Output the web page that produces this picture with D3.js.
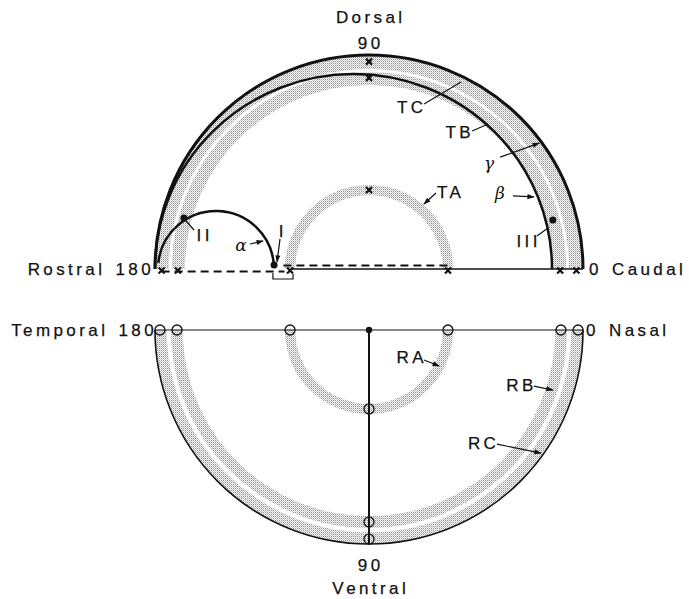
<!DOCTYPE html>
<html><head><meta charset="utf-8">
<script src="https://cdn.jsdelivr.net/npm/d3@7"></script>
<style>
body{margin:0;background:#fff}
text{font-family:"Liberation Sans",Arial,sans-serif;font-size:17px;letter-spacing:3.4px;word-spacing:2px;fill:#111;stroke:#111;stroke-width:0.25px}
.greek{font-family:"DejaVu Serif",serif;font-style:italic;letter-spacing:0;stroke-width:0}
</style>
</head><body><svg id="c" width="689" height="599"></svg>
<script>
// ---------- data ----------
const directionTicks = [0, 90, 180];
const tectumAxisLabels = ["0 Caudal", "Dorsal", "Rostral 180"];
const retinaAxisLabels = ["0 Nasal", "Ventral", "Temporal 180"];
const tickLabel90 = "90";

const tectalBands = ["TA", "TB", "TC"];
const tectalBandInner = [0.345, 0.860, 0.935];
const tectalBandOuter = [0.393, 0.921, 1.000];
const tectalMarkRadius = [0.369, 0.893, 0.969];

const retinalBands = ["RA", "RB", "RC"];
const retinalBandInner = [0.345, 0.870, 0.945];
const retinalBandOuter = [0.393, 0.925, 0.997];
const retinalMarkRadius = [0.369, 0.897, 0.977];

const pointNames = ["I", "II", "III"];
const pointAngle = [177.6, 164.6, 14.9];
const pointRadius = [0.444, 0.897, 0.889];

// β boundary (ellipse) and α curve (circle), data units
const betaCenterX = -0.0724, betaRx = 0.9276, betaRy = 0.911;
const alphaCenterX = -0.715, alphaR = 0.271, alphaStart = 174, alphaEnd = 3;

// dashed/solid horizontal segments on the tectal axis (x in data units)
const dashLower = [-0.969, -0.395];
const dashUpper = [-0.40, 0.375];
const solidTop = [-0.36, 1.0];
const bracketX = [-0.449, -0.355];

// annotations: name, tip angle, tip radius
const topNotes = ["TC", "TB", "γ", "β", "III", "TA", "α", "II", "I"];
const topNoteAngle = [63.8, 50.6, 36.5, 23.6, 12.9, 49.8, 165.2, 165.3, 175.6];
const topNoteRadius = [0.974, 0.877, 0.989, 0.841, 0.858, 0.398, 0.512, 0.884, 0.431];
const botNotes = ["RA", "RB", "RC"];
const botNoteAngle = [27.2, 18.1, 35.6];
const botNoteRadius = [0.368, 0.904, 0.988];

// ---------- layout ----------
const cx = 369, cyTop = 269, cyBot = 330, R = 214;
const topNoteText = [[-51,26],[-30,9],[-50,20],[-34,-4],[-21,13],[25,-11],[-22,4],[17,15],[4,-30]];
const topNoteStart = [[-37,22],[-16,7],[-39,14],[-21,-1],[-11,8],[12,-11],[-13,3],[8,9],[3,-23]];
const topNoteArrow = [false,false,true,true,false,true,true,false,true];
const botNoteText = [[-29,-8],[-33,-5],[-59,-10]];
const botNoteStart = [[-15,-6],[-19,-4],[-44,-9]];

const svg = d3.select("#c");
const defs = svg.append("defs");
const pat = defs.append("pattern").attr("id","stip").attr("patternUnits","userSpaceOnUse")
  .attr("width",2).attr("height",2);
pat.append("rect").attr("width",2).attr("height",2).attr("fill","#fbfbfb");
pat.append("rect").attr("x",0).attr("y",0).attr("width",1).attr("height",1).attr("fill","#8e8e8e");
pat.append("rect").attr("x",1).attr("y",1).attr("width",1).attr("height",1).attr("fill","#c6c6c6");
defs.append("marker").attr("id","arr").attr("viewBox","0 0 10 10").attr("refX",9).attr("refY",5)
  .attr("markerWidth",7).attr("markerHeight",6).attr("orient","auto")
  .append("path").attr("d","M0,1.5L10,5L0,8.5z").attr("fill","#111");

const xS = d3.scaleLinear().domain([-1,1]).range([cx-R, cx+R]);
const yTop = d3.scaleLinear().domain([0,1]).range([cyTop, cyTop-R]);
const yBot = d3.scaleLinear().domain([0,1]).range([cyBot, cyBot+R]);
const rS = d3.scaleLinear().domain([0,1]).range([0,R]);
const rad = d => d*Math.PI/180;
const pTop = (a,r) => [xS(r*Math.cos(rad(a))), yTop(r*Math.sin(rad(a)))];
const pBot = (a,r) => [xS(r*Math.cos(rad(a))), yBot(r*Math.sin(rad(a)))];
const arcGen = d3.arc();
const ink = "#111";

// ---------- TOP (tectum) ----------
const gT = svg.append("g");
tectalBands.forEach((b,i)=>{
  gT.append("path").attr("transform",`translate(${cx},${cyTop})`)
    .attr("d", arcGen({innerRadius:rS(tectalBandInner[i]), outerRadius:rS(tectalBandOuter[i]),
      startAngle:-Math.PI/2, endAngle:Math.PI/2}))
    .attr("fill","url(#stip)");
});
// outer arc
{ const p = d3.path(); p.arc(cx, cyTop, rS(1), Math.PI, 2*Math.PI);
  gT.append("path").attr("d",p.toString()).attr("fill","none").attr("stroke",ink).attr("stroke-width",3); }
// β boundary
{ const x0 = xS(betaCenterX-betaRx), x1 = xS(betaCenterX+betaRx);
  gT.append("path").attr("d",`M${x0},${cyTop}A${rS(betaRx)},${rS(betaRy)} 0 0 1 ${x1},${cyTop}`)
    .attr("fill","none").attr("stroke",ink).attr("stroke-width",2.5); }
// α curve
{ const p = d3.path(); p.arc(xS(alphaCenterX), cyTop, rS(alphaR), -rad(alphaStart), -rad(alphaEnd));
  gT.append("path").attr("d",p.toString()).attr("fill","none").attr("stroke",ink).attr("stroke-width",2.5); }
// axis segments
gT.append("line").attr("x1",xS(solidTop[0])).attr("x2",xS(solidTop[1])).attr("y1",cyTop).attr("y2",cyTop)
  .attr("stroke",ink).attr("stroke-width",1.5);
gT.append("line").attr("x1",xS(dashLower[0])).attr("x2",xS(dashLower[1])).attr("y1",cyTop+2.5).attr("y2",cyTop+2.5)
  .attr("stroke",ink).attr("stroke-width",2).attr("stroke-dasharray","8,5");
gT.append("line").attr("x1",xS(dashUpper[0])).attr("x2",xS(dashUpper[1])).attr("y1",cyTop-3.5).attr("y2",cyTop-3.5)
  .attr("stroke",ink).attr("stroke-width",2).attr("stroke-dasharray","8,5");
gT.append("path").attr("d",`M${xS(bracketX[0])},${cyTop+4}V${cyTop+10}H${xS(bracketX[1])}V${cyTop+5}`)
  .attr("fill","none").attr("stroke",ink).attr("stroke-width",1.2);
// x marks
tectalBands.forEach((b,i)=>{
  directionTicks.forEach(a=>{
    const [x,y] = pTop(a, tectalMarkRadius[i]);
    const yy = a===90 ? y : y+1.5;
    gT.append("path").attr("d",`M${x-3},${yy-3}L${x+3},${yy+3}M${x+3},${yy-3}L${x-3},${yy+3}`)
      .attr("stroke",ink).attr("stroke-width",2.2);
  });
});
// points
pointNames.forEach((n,i)=>{
  const [x,y] = pTop(pointAngle[i], pointRadius[i]);
  gT.append("circle").attr("cx",x).attr("cy",y).attr("r",3.5).attr("fill",ink);
});
// annotations
topNotes.forEach((n,i)=>{
  const [tx,ty] = pTop(topNoteAngle[i], topNoteRadius[i]);
  const [sx,sy] = [tx+topNoteStart[i][0], ty+topNoteStart[i][1]];
  const l = gT.append("line").attr("x1",sx).attr("y1",sy).attr("x2",tx).attr("y2",ty)
    .attr("stroke",ink).attr("stroke-width",1.2);
  if (topNoteArrow[i]) l.attr("marker-end","url(#arr)");
  const greek = "αβγ".includes(n);
  gT.append("text").attr("x",tx+topNoteText[i][0]+(greek?0:1.7)).attr("y",ty+topNoteText[i][1])
    .attr("text-anchor","middle").attr("dominant-baseline","central")
    .attr("class",greek?"greek":null).style("font-size",greek?"17px":null).text(n);
});
// axis labels
gT.append("text").attr("x",cx+1.7).attr("y",17).attr("text-anchor","middle").attr("dominant-baseline","central").text(tectumAxisLabels[1]);
gT.append("text").attr("x",cx+1.7).attr("y",43).attr("text-anchor","middle").attr("dominant-baseline","central").text(tickLabel90);
gT.append("text").attr("x",xS(-1)-1).attr("y",cyTop).attr("text-anchor","end").attr("dominant-baseline","central").text(tectumAxisLabels[2]);
gT.append("text").attr("x",xS(1)+6).attr("y",cyTop).attr("dominant-baseline","central").text(tectumAxisLabels[0]);

// ---------- BOTTOM (retina) ----------
const gB = svg.append("g");
retinalBands.forEach((b,i)=>{
  gB.append("path").attr("transform",`translate(${cx},${cyBot})`)
    .attr("d", arcGen({innerRadius:rS(retinalBandInner[i]), outerRadius:rS(retinalBandOuter[i]),
      startAngle:Math.PI/2, endAngle:3*Math.PI/2}))
    .attr("fill","url(#stip)");
});
{ const p = d3.path(); p.arc(cx, cyBot, rS(1), 0, Math.PI);
  gB.append("path").attr("d",p.toString()).attr("fill","none").attr("stroke",ink).attr("stroke-width",1.6); }
gB.append("line").attr("x1",xS(-1)).attr("x2",xS(1)).attr("y1",cyBot).attr("y2",cyBot).attr("stroke",ink).attr("stroke-width",1.2);
gB.append("line").attr("x1",cx).attr("x2",cx).attr("y1",cyBot).attr("y2",yBot(1)).attr("stroke",ink).attr("stroke-width",2);
gB.append("circle").attr("cx",cx).attr("cy",cyBot).attr("r",3.2).attr("fill",ink);
retinalBands.forEach((b,i)=>{
  directionTicks.forEach(a=>{
    const [x,y] = pBot(a, retinalMarkRadius[i]);
    gB.append("circle").attr("cx",x).attr("cy",y).attr("r",5).attr("fill","none").attr("stroke",ink).attr("stroke-width",1.3);
  });
});
botNotes.forEach((n,i)=>{
  const [tx,ty] = pBot(botNoteAngle[i], botNoteRadius[i]);
  gB.append("line").attr("x1",tx+botNoteStart[i][0]).attr("y1",ty+botNoteStart[i][1]).attr("x2",tx).attr("y2",ty)
    .attr("stroke",ink).attr("stroke-width",1.2).attr("marker-end","url(#arr)");
  gB.append("text").attr("x",tx+botNoteText[i][0]+1.7).attr("y",ty+botNoteText[i][1])
    .attr("text-anchor","middle").attr("dominant-baseline","central").text(n);
});
gB.append("text").attr("x",cx+1.7).attr("y",565).attr("text-anchor","middle").attr("dominant-baseline","central").text(tickLabel90);
gB.append("text").attr("x",cx+1.7).attr("y",588).attr("text-anchor","middle").attr("dominant-baseline","central").text(retinaAxisLabels[1]);
gB.append("text").attr("x",xS(-1)+2).attr("y",cyBot).attr("text-anchor","end").attr("dominant-baseline","central").text(retinaAxisLabels[2]);
gB.append("text").attr("x",xS(1)+3).attr("y",cyBot).attr("dominant-baseline","central").text(retinaAxisLabels[0]);
</script></body></html>
